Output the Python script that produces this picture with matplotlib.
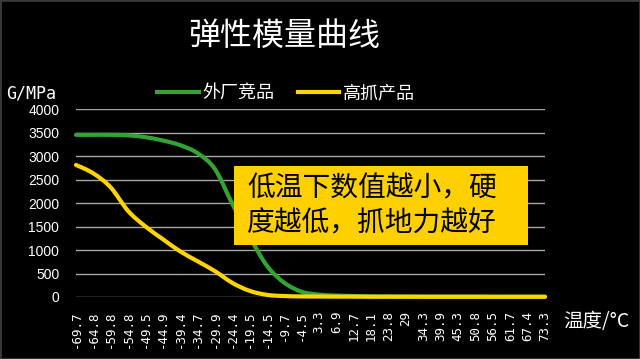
import matplotlib
matplotlib.use("Agg")
import matplotlib.pyplot as plt
import numpy as np
from matplotlib.path import Path
from matplotlib.patches import PathPatch, Rectangle
from matplotlib.lines import Line2D

plt.rcParams['font.family'] = ['Noto Sans CJK SC', 'DejaVu Sans']

categories = ["-69.7", "-64.8", "-59.8", "-54.8", "-49.5", "-44.9", "-39.4",
              "-34.7", "-29.9", "-24.4", "-19.5", "-14.5", "-9.7", "-4.5",
              "3.3", "6.9", "12.7", "18.1", "23.8", "29", "34.3", "39.9",
              "45.3", "50.8", "56.5", "61.7", "67.4", "73.3"]

competitor = [3450, 3450, 3450, 3440, 3400, 3330, 3230, 3060, 2720, 1980,
              1280, 660, 300, 110, 50, 30, 20, 15, 12, 10, 10, 8, 8, 8, 6, 6, 6, 6]
ours = [2810, 2630, 2330, 1830, 1500, 1230, 970, 760, 550, 300,
        130, 45, 20, 12, 10, 8, 8, 6, 6, 6, 5, 5, 5, 5, 5, 5, 5, 5]

series_names = ["外厂竞品", "高抓产品"]
yticks = [0, 500, 1000, 1500, 2000, 2500, 3000, 3500, 4000]

GREEN = "#33A333"
YELLOW = "#FFD400"


def smooth_path(xs, ys, t=1/6):
    """Smoothed line (like Excel's smoothed line) as cubic Bezier segments."""
    xs = np.asarray(xs, float)
    ys = np.asarray(ys, float)
    n = len(xs)
    verts = [(xs[0], ys[0])]
    codes = [Path.MOVETO]
    for i in range(n - 1):
        p0 = (xs[max(i - 1, 0)], ys[max(i - 1, 0)])
        p1 = (xs[i], ys[i])
        p2 = (xs[i + 1], ys[i + 1])
        p3 = (xs[min(i + 2, n - 1)], ys[min(i + 2, n - 1)])
        c1 = (p1[0] + (p2[0] - p0[0]) * t, p1[1] + (p2[1] - p0[1]) * t)
        c2 = (p2[0] - (p3[0] - p1[0]) * t, p2[1] - (p3[1] - p1[1]) * t)
        verts += [c1, c2, p2]
        codes += [Path.CURVE4] * 3
    return Path(verts, codes)


fig = plt.figure(figsize=(6.4, 3.59), dpi=100, facecolor="black")
ax = fig.add_axes([76/640, 1 - 297/359, (545-76)/640, (297-109)/359])
ax.set_facecolor("black")

x = np.arange(len(categories))
for vals, col in [(competitor, GREEN), (ours, YELLOW)]:
    ax.add_patch(PathPatch(smooth_path(x, vals), facecolor="none", edgecolor=col,
                           lw=3, capstyle="round", joinstyle="round", zorder=3,
                           clip_on=False))

ax.set_xlim(0, len(categories) - 1)
ax.set_ylim(0, 4000)
ax.set_yticks(yticks)
ax.set_yticklabels([str(v) for v in yticks], color="white", fontsize=10,
                   family=["Liberation Sans"])
ax.set_xticks(x)
ax.set_xticklabels(categories, rotation=90, color="white", fontsize=9,
                   family=["DejaVu Sans Mono"])
ax.tick_params(axis="both", length=0)
ax.tick_params(axis="x", pad=10)
ax.tick_params(axis="y", pad=12)
for s in ax.spines.values():
    s.set_visible(False)
ax.grid(axis="y", color="#A6A6A6", lw=1)
ax.set_axisbelow(True)

# title
fig.text(284/640, 1 - 36/359, "弹性模量曲线", color="white", fontsize=23,
         ha="center", va="center")
# y unit
fig.text(6/640, 1 - 93/359, "G/MPa", color="white", fontsize=12, ha="left", va="center",
         family=["DejaVu Sans Mono"])
# x unit
fig.text(563/640, 1 - 322/359, "温度/°C", color="white", fontsize=14, ha="left", va="center")

# legend
handles = [Line2D([], [], color=GREEN, lw=3), Line2D([], [], color=YELLOW, lw=3)]
fig.legend(handles, series_names, loc="center", bbox_to_anchor=(286/640, 1 - 93/359),
           ncol=2, frameon=False, fontsize=13, labelcolor="white",
           handlelength=2.3, handletextpad=0.2, columnspacing=1.3)

# annotation box
fig.patches.append(Rectangle((234/640, 1 - 245/359), (528-234)/640, (245-166)/359,
                             transform=fig.transFigure, facecolor="#FFD000",
                             edgecolor="none", zorder=5))
fig.text(247/640, 1 - 206/359, "低温下数值越小，硬\n度越低，抓地力越好", color="black",
         fontsize=20, ha="left", va="center", linespacing=1.25, zorder=6)

# border
fig.patches.append(Rectangle((0, 0), 1, 1, transform=fig.transFigure, facecolor="none",
                             edgecolor="#3A3A3A", lw=2, zorder=10))

fig.savefig("out.png", dpi=100, facecolor="black")
